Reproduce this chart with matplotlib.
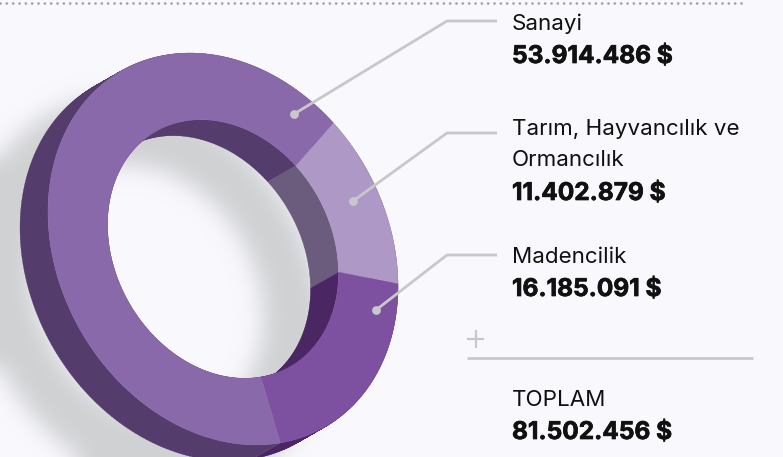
import numpy as np
import matplotlib
matplotlib.use('Agg')
import matplotlib.pyplot as plt
import matplotlib.patheffects as pe
from matplotlib.colors import to_rgb
from matplotlib.path import Path
from matplotlib.patches import PathPatch

labels = ['Sanayi', 'Tarım, Hayvancılık ve\nOrmancılık', 'Madencilik']
values = [53914486, 11402879, 16185091]
face_colors = ['#8a69aa', '#ae98c6', '#7e50a0']
wall_colors = ['#543c6c', '#6b5c7e', '#4a2763']

BG = '#f8f8fd'
LINE = '#c8c8cc'
FONT = 'Inter'

# ring geometry in pixels, the circle is skewed into a tilted ellipse
cx, cy = 223, 249
A = np.array([[175, 0], [37.1, 192.4]])
inner_ratio = 0.66
depth = np.array([-28, 16])
shadow_offset = np.array([-75, 45])
cut_deg = -51  # where Tarım starts


def ring_pts(theta, r=1.0, off=(0, 0)):
    xy = A @ np.vstack([np.cos(theta), np.sin(theta)]) * r
    return xy[0] + cx + off[0], xy[1] + cy + off[1]


def in_ellipse(px, py, r, off):
    inv = np.linalg.inv(A)
    dx, dy = px - cx - off[0], py - cy - off[1]
    u = inv[0, 0] * dx + inv[0, 1] * dy
    v = inv[1, 0] * dx + inv[1, 1] * dy
    return u ** 2 + v ** 2 <= r ** 2


def blur(img, sigma):
    k = np.exp(-0.5 * (np.arange(-40, 41) / sigma) ** 2)
    k /= k.sum()
    pad = np.pad(img, 40, mode='edge')
    pad = np.apply_along_axis(lambda m: np.convolve(m, k, mode='same'), 0, pad)
    pad = np.apply_along_axis(lambda m: np.convolve(m, k, mode='same'), 1, pad)
    return pad[40:-40, 40:-40]


def wall_path(th, r):
    # all quads wound the same way so the union fills without seams
    x0, y0 = ring_pts(th, r)
    x1, y1 = ring_pts(th, r, depth)
    verts, codes = [], []
    for j in range(len(th) - 1):
        q = [(x0[j], y0[j]), (x0[j + 1], y0[j + 1]), (x1[j + 1], y1[j + 1]), (x1[j], y1[j])]
        qx, qy = zip(*q)
        area = sum(qx[k] * qy[(k + 1) % 4] - qx[(k + 1) % 4] * qy[k] for k in range(4))
        if area < 0:
            q = q[::-1]
        verts += q + [q[0]]
        codes += [Path.MOVETO, Path.LINETO, Path.LINETO, Path.LINETO, Path.CLOSEPOLY]
    return Path(verts, codes)


def money(v):
    return f'{v:,}'.replace(',', '.') + ' $'


fig = plt.figure(figsize=(7.83, 4.57), dpi=100, facecolor=BG)
ax = fig.add_axes([0, 0, 1, 1])
ax.set_xlim(0, 783)
ax.set_ylim(457, 0)
ax.axis('off')

# soft shadow under the ring
py, px = np.mgrid[0:457, 0:783] + 0.5
ring = in_ellipse(px, py, 1, shadow_offset) & ~in_ellipse(px, py, inner_ratio, shadow_offset)
alpha = blur(ring.astype(float), 11)
rgba = np.zeros((457, 783, 4))
rgba[..., :3] = to_rgb('#d0d1d3')
rgba[..., 3] = alpha
ax.imshow(rgba, extent=(0, 783, 457, 0), zorder=1, aspect='auto')

# slices run Tarım, Madencilik, Sanayi clockwise on screen
order = [1, 2, 0]
start = np.radians(cut_deg)
total = sum(values)
for i in order:
    sweep = 2 * np.pi * values[i] / total
    th = np.linspace(start, start + sweep, int(sweep * 60) + 2)
    for r, z in [(1, 2), (inner_ratio, 3)]:
        ax.add_patch(PathPatch(wall_path(th, r), facecolor=wall_colors[i], edgecolor=wall_colors[i], lw=0.2, zorder=z))
    xo, yo = ring_pts(th, 1)
    xi, yi = ring_pts(th, inner_ratio)
    ax.fill(np.r_[xo, xi[::-1]], np.r_[yo, yi[::-1]], color=face_colors[i], lw=0.3, zorder=4)
    start += sweep

# top dotted rule
ax.plot([0, 742], [2.5, 2.5], color='#a2a2aa', lw=2.0, ls=(0, (0.01, 2.27)), dash_capstyle='round', zorder=5)

# leaders
dots_x = [294, 353, 376]
dots_y = [114, 201, 310]
elbow_y = [21, 133, 255]
for dx, dy, ey in zip(dots_x, dots_y, elbow_y):
    ax.plot([dx, 447, 497], [dy, ey, ey], color=LINE, lw=2, solid_capstyle='butt', zorder=6)
    ax.scatter([dx], [dy], s=40, color=LINE, lw=0, zorder=6)

# text
txt = dict(family=FONT, color='#111111', va='baseline', ha='left', zorder=7)
bold = dict(fontsize=17.6, fontweight='bold', path_effects=[pe.withStroke(linewidth=0.5, foreground='#111111')])
name_y = [[30], [135, 166], [263]]
val_y = [63, 200, 296]
for lab, ys, v, vy in zip(labels, name_y, values, val_y):
    for part, y in zip(lab.split('\n'), ys):
        ax.text(512, y, part, fontsize=16.1, **txt)
    ax.text(512, vy, money(v), **bold, **txt)

ax.plot([467, 484], [339, 339], color=LINE, lw=1.6, solid_capstyle='butt', zorder=6)
ax.plot([475.5, 475.5], [330, 348], color=LINE, lw=1.6, solid_capstyle='butt', zorder=6)
ax.plot([467, 753], [357.5, 357.5], color=LINE, lw=2, solid_capstyle='butt', zorder=6)

ax.text(512, 406, 'TOPLAM', fontsize=16.1, **txt)
ax.text(512, 439, money(total), **bold, **txt)

fig.savefig('out.png', dpi=100, facecolor=BG)
